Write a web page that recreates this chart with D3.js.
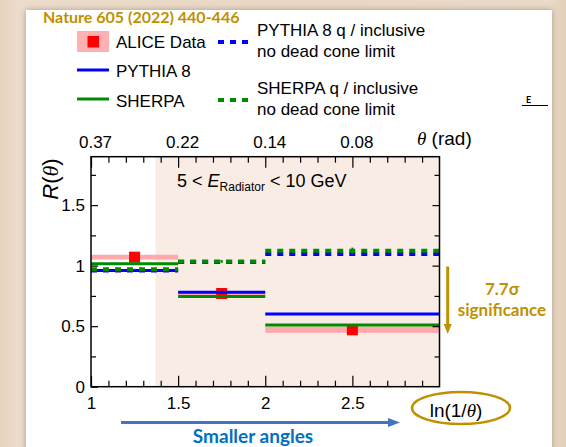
<!DOCTYPE html>
<html>
<head>
<meta charset="utf-8">
<script src="https://cdn.jsdelivr.net/npm/d3@7"></script>
<style>
  html, body { margin: 0; padding: 0; background: #e8d7c3; }
  svg { display: block; }
  .sans { font-family: "Liberation Sans", Arial, Helvetica, sans-serif; }
  .cal { font-family: Lato, "Open Sans", sans-serif; font-weight: bold; }
</style>
</head>
<body>
<svg id="chart" width="566" height="447"></svg>
<script>
// ---- data ----
const binEdges = [1, 1.5, 2, 3];                 // ln(1/theta) bins
const aliceValues = [1.07, 0.77, 0.47];          // ALICE R(theta)
const aliceSyst = [0.02, 0.02, 0.025];           // systematic half-widths
const pythiaValues = [0.96, 0.78, 0.60];         // PYTHIA 8
const sherpaValues = [1.015, 0.745, 0.51];       // SHERPA
const pythiaNoDC = [0.96, 1.03, 1.097];          // PYTHIA 8 q / inclusive
const sherpaNoDC = [0.97, 1.035, 1.124];         // SHERPA q / inclusive
const sherpaNoDCErr = [0.004, 0.012, 0.025];
const xTickValues = [1, 1.5, 2, 2.5];
const xTickLabels = ["1", "1.5", "2", "2.5"];
const thetaTickLabels = ["0.37", "0.22", "0.14", "0.08"];
const yTickValues = [0, 0.5, 1, 1.5];
const yTickLabels = ["0", "0.5", "1", "1.5"];
const shadeStart = 1.37;                          // start of shaded region

const GOLD = "#bf9000", BLUE = "#0000ff", GREEN = "#008a00", RED = "#ff0000";

const svg = d3.select("#chart");

// ---- slide background and white panel ----
const defs = svg.append("defs");
const sh = defs.append("filter").attr("id", "shadow").attr("x", "-5%").attr("y", "-5%").attr("width", "110%").attr("height", "110%");
sh.append("feDropShadow").attr("dx", 0).attr("dy", 0).attr("stdDeviation", 3).attr("flood-color", "#7a6450").attr("flood-opacity", 0.55);
const wood = defs.append("linearGradient").attr("id", "wood").attr("x1", 0).attr("x2", 1).attr("y1", 0).attr("y2", 0);
[["0", "#e6d3bd"], ["0.03", "#ecdccb"], ["0.5", "#e9d8c5"], ["0.97", "#eadac8"], ["1", "#e2cfb9"]]
  .forEach(([o, c]) => wood.append("stop").attr("offset", o).attr("stop-color", c));
svg.append("rect").attr("width", 566).attr("height", 447).attr("fill", "url(#wood)");
svg.append("rect").attr("x", 26).attr("y", 10).attr("width", 526).attr("height", 460)
  .attr("fill", "#ffffff").attr("filter", "url(#shadow)");

// ---- scales ----
const x = d3.scaleLinear().domain([1, 3]).range([91, 439.5]);
const y = d3.scaleLinear().domain([0, 1.9]).range([386.7, 156.7]);
const [x0, x1] = x.range(), [y0, y1] = y.range();

const plot = svg.append("g");

// shaded region
plot.append("rect").attr("x", x(shadeStart)).attr("y", y1)
  .attr("width", x(3) - x(shadeStart)).attr("height", y0 - y1).attr("fill", "#f9ece5");

const bins = d3.range(3).map(i => ({ lo: binEdges[i], hi: binEdges[i + 1], mid: (binEdges[i] + binEdges[i + 1]) / 2, i }));

// ALICE systematic boxes
plot.selectAll(".syst").data(bins).join("rect")
  .attr("x", d => x(d.lo)).attr("width", d => x(d.hi) - x(d.lo))
  .attr("y", d => y(aliceValues[d.i] + aliceSyst[d.i]))
  .attr("height", d => y(aliceValues[d.i] - aliceSyst[d.i]) - y(aliceValues[d.i] + aliceSyst[d.i]))
  .attr("fill", "#ffaaaa");

// ALICE markers
const ms = 11;
plot.selectAll(".pt").data(bins).join("rect")
  .attr("x", d => x(d.mid) - ms / 2).attr("y", d => y(aliceValues[d.i]) - ms / 2)
  .attr("width", ms).attr("height", ms).attr("fill", RED);

function stepLines(values, color, width, dash) {
  plot.append("g").selectAll("line").data(bins).join("line")
    .attr("x1", d => x(d.lo)).attr("x2", d => x(d.hi))
    .attr("y1", d => y(values[d.i])).attr("y2", d => y(values[d.i]))
    .attr("stroke", color).attr("stroke-width", width)
    .attr("stroke-dasharray", dash || null);
}
stepLines(pythiaValues, BLUE, 3);
stepLines(sherpaValues, GREEN, 3);
stepLines(pythiaNoDC, BLUE, 4, "6,6");
stepLines(sherpaNoDC, GREEN, 4, "6,6");
// MC statistical errors
plot.append("g").selectAll("line").data(bins).join("line")
  .attr("x1", d => x(d.mid)).attr("x2", d => x(d.mid))
  .attr("y1", d => y(sherpaNoDC[d.i] - sherpaNoDCErr[d.i]))
  .attr("y2", d => y(sherpaNoDC[d.i] + sherpaNoDCErr[d.i]))
  .attr("stroke", GREEN).attr("stroke-width", 2);

// ---- axes (ticks inward) ----
const axisFont = g => g.attr("font-family", "Liberation Sans, Arial, sans-serif").attr("font-size", 17);
const styleAxis = g => { g.select(".domain").remove(); g.selectAll("line").attr("stroke", "#000").attr("stroke-width", 1.2); };
const minorX = d3.range(11, 30).map(v => v / 10).filter(v => !xTickValues.some(t => Math.abs(t - v) < 1e-6));
const minorY = [0.25, 0.75, 1.25, 1.75];

svg.append("g").attr("transform", `translate(0,${y0})`)
  .call(d3.axisBottom(x).tickValues(xTickValues).tickFormat((d, i) => xTickLabels[i]).tickSize(-11).tickPadding(10))
  .call(axisFont).call(styleAxis).selectAll("text").attr("fill", "#000");
svg.append("g").attr("transform", `translate(0,${y0})`)
  .call(d3.axisBottom(x).tickValues(minorX).tickFormat("").tickSize(-6)).call(styleAxis);

svg.append("g").attr("transform", `translate(0,${y1})`)
  .call(d3.axisTop(x).tickValues(xTickValues).tickFormat((d, i) => thetaTickLabels[i]).tickSize(-11).tickPadding(9))
  .call(axisFont).call(styleAxis).selectAll("text").attr("fill", "#000").attr("dx", 4);
svg.append("g").attr("transform", `translate(0,${y1})`)
  .call(d3.axisTop(x).tickValues(minorX).tickFormat("").tickSize(-6)).call(styleAxis);

svg.append("g").attr("transform", `translate(${x0},0)`)
  .call(d3.axisLeft(y).tickValues(yTickValues).tickFormat((d, i) => yTickLabels[i]).tickSize(-7).tickPadding(6))
  .call(axisFont).call(styleAxis).selectAll("text").attr("fill", "#000");
svg.append("g").attr("transform", `translate(${x0},0)`)
  .call(d3.axisLeft(y).tickValues(minorY).tickFormat("").tickSize(-5)).call(styleAxis);
svg.append("g").attr("transform", `translate(${x1},0)`)
  .call(d3.axisRight(y).tickValues(yTickValues.slice(1)).tickFormat("").tickSize(-7)).call(styleAxis);
svg.append("g").attr("transform", `translate(${x1},0)`)
  .call(d3.axisRight(y).tickValues(minorY).tickFormat("").tickSize(-5)).call(styleAxis);

// frame
svg.append("rect").attr("x", x0).attr("y", y1).attr("width", x1 - x0).attr("height", y0 - y1)
  .attr("fill", "none").attr("stroke", "#000").attr("stroke-width", 1.5);

// ---- axis titles ----
const rt = svg.append("text").attr("class", "sans").attr("font-size", 22)
  .attr("transform", "translate(58,179) rotate(-90)").attr("text-anchor", "middle");
rt.append("tspan").attr("font-style", "italic").text("R");
rt.append("tspan").text("(");
rt.append("tspan").attr("font-family", "Liberation Serif, serif").attr("font-style", "italic").text("θ");
rt.append("tspan").text(")");

const tt = svg.append("text").attr("class", "sans").attr("font-size", 19).attr("x", 417).attr("y", 145);
tt.append("tspan").attr("font-family", "Liberation Serif, serif").attr("font-style", "italic").text("θ");
tt.append("tspan").text(" (rad)");

const lt = svg.append("text").attr("class", "sans").attr("font-size", 19).attr("x", 456).attr("y", 416.5).attr("text-anchor", "middle");
lt.append("tspan").text("ln(1/");
lt.append("tspan").attr("font-family", "Liberation Serif, serif").attr("font-style", "italic").text("θ");
lt.append("tspan").text(")");
svg.append("ellipse").attr("cx", 461).attr("cy", 408).attr("rx", 49).attr("ry", 16)
  .attr("fill", "none").attr("stroke", GOLD).attr("stroke-width", 2.5);

// energy selection label
const et = svg.append("text").attr("class", "sans").attr("font-size", 18).attr("x", 177).attr("y", 187);
et.append("tspan").text("5 < ");
et.append("tspan").attr("font-style", "italic").text("E");
et.append("tspan").attr("font-size", 12).attr("dy", 4).text("Radiator");
et.append("tspan").attr("dy", -4).text(" < 10 GeV");

// ---- legend ----
svg.append("text").attr("class", "cal").attr("font-size", 16).attr("fill", GOLD)
  .attr("x", 43).attr("y", 23).text("Nature 605 (2022) 440-446");
svg.append("rect").attr("x", 77).attr("y", 31).attr("width", 32).attr("height", 21).attr("fill", "#ffb0b0");
svg.append("rect").attr("x", 87.5).attr("y", 36).attr("width", 11.5).attr("height", 11.5).attr("fill", RED);
const leg = [
  { x: 77, y: 70, c: BLUE, dash: null, w: 3 },
  { x: 77, y: 99, c: GREEN, dash: null, w: 3 },
  { x: 218, y: 42, c: BLUE, dash: "6,6", w: 4 },
  { x: 218, y: 100, c: GREEN, dash: "6,6", w: 4 }
];
svg.append("g").selectAll("line").data(leg).join("line")
  .attr("x1", d => d.x).attr("x2", d => d.x + (d.dash ? 30 : 32)).attr("y1", d => d.y).attr("y2", d => d.y)
  .attr("stroke", d => d.c).attr("stroke-width", d => d.w).attr("stroke-dasharray", d => d.dash);
const legText = [
  { x: 116, y: 48, t: "ALICE Data" }, { x: 116, y: 77, t: "PYTHIA 8" }, { x: 116, y: 107, t: "SHERPA" },
  { x: 257, y: 36, t: "PYTHIA 8 q / inclusive" }, { x: 257, y: 57, t: "no dead cone limit" },
  { x: 257, y: 94, t: "SHERPA q / inclusive" }, { x: 257, y: 115, t: "no dead cone limit" }
];
svg.append("g").selectAll("text").data(legText).join("text").attr("class", "sans").attr("font-size", 17)
  .attr("x", d => d.x).attr("y", d => d.y).attr("fill", "#000").text(d => d.t);

// stray slide mark
svg.append("text").attr("class", "cal").attr("font-size", 9).attr("font-weight", "normal").attr("x", 526).attr("y", 103).text("E");
svg.append("line").attr("x1", 522).attr("x2", 548).attr("y1", 105.5).attr("y2", 105.5).attr("stroke", "#000").attr("stroke-width", 1);

// ---- annotations ----
function arrow(xa, ya, xb, yb, color, w, headL, headW) {
  const ang = Math.atan2(yb - ya, xb - xa);
  const bx = xb - headL * Math.cos(ang), by = yb - headL * Math.sin(ang);
  svg.append("line").attr("x1", xa).attr("y1", ya).attr("x2", bx).attr("y2", by)
    .attr("stroke", color).attr("stroke-width", w);
  const px = -Math.sin(ang) * headW / 2, py = Math.cos(ang) * headW / 2;
  svg.append("path").attr("d", `M${xb},${yb}L${bx + px},${by + py}L${bx - px},${by - py}Z`).attr("fill", color);
}
arrow(447.7, 266.5, 447.7, 334, GOLD, 3, 10, 8);
svg.append("text").attr("class", "cal").attr("font-size", 17).attr("fill", GOLD).attr("text-anchor", "middle")
  .attr("x", 502).attr("y", 295).text("7.7σ");
svg.append("text").attr("class", "cal").attr("font-size", 17).attr("fill", GOLD).attr("text-anchor", "middle")
  .attr("x", 502).attr("y", 316).text("significance");

arrow(121, 422.5, 400, 422.5, "#4472c4", 3, 12, 9);
svg.append("text").attr("class", "cal").attr("font-size", 19).attr("fill", "#0070c0").attr("text-anchor", "middle")
  .attr("x", 253).attr("y", 443).text("Smaller angles");
</script>
</body>
</html>
